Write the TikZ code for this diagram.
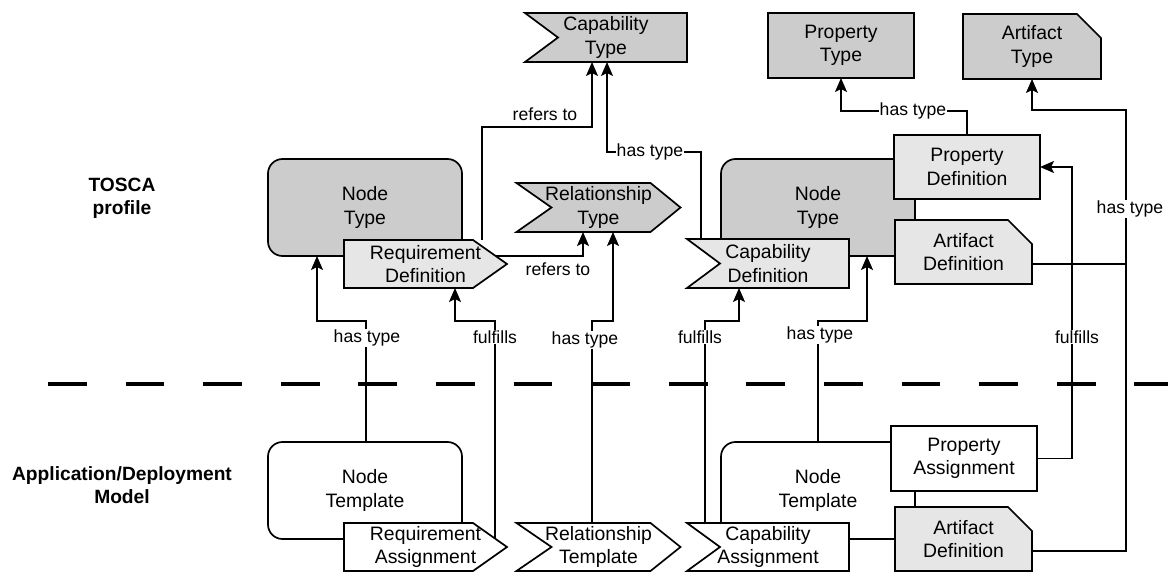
\documentclass[tikz,border=0pt]{standalone}
\usepackage{fontspec}
\setmainfont{Liberation Sans}
\usetikzlibrary{arrows.meta,backgrounds,calc}
\definecolor{dgray}{RGB}{204,204,204}
\definecolor{lgray}{RGB}{230,230,230}

% outlines are drawn on the background layer, in order, behind the node texts
\newcommand\flagshape[3]{\begin{scope}[on background layer]
  \draw[#1] (#2.north west) -- (#2.north east) -- (#2.south east) -- (#2.south west) -- ([xshift=#3]#2.west) -- cycle;
\end{scope}}
\newcommand\pentshape[3]{\begin{scope}[on background layer]
  \draw[#1] (#2.north west) -- ([xshift=-#3]#2.north east) -- (#2.east) -- ([xshift=-#3]#2.south east) -- (#2.south west) -- cycle;
\end{scope}}
\newcommand\chevshape[4]{\begin{scope}[on background layer]
  \draw[#1] (#2.north west) -- ([xshift=-#4]#2.north east) -- (#2.east) -- ([xshift=-#4]#2.south east) -- (#2.south west) -- ([xshift=#3]#2.west) -- cycle;
\end{scope}}
\newcommand\noteshape[3]{\begin{scope}[on background layer]
  \draw[#1] (#2.north west) -- ([xshift=-#3]#2.north east) -- ([yshift=-#3]#2.north east) -- (#2.south east) -- (#2.south west) -- cycle;
\end{scope}}
\newcommand\rectshape[2]{\begin{scope}[on background layer]
  \draw[#1] (#2.north west) rectangle (#2.south east);
\end{scope}}
\newcommand\roundshape[2]{\begin{scope}[on background layer]
  \draw[#1, rounded corners=14.5pt] (#2.north west) rectangle (#2.south east);
\end{scope}}

\begin{document}
\begin{tikzpicture}[x=1pt, y=-1pt,
  box/.style={inner sep=0pt, outer sep=0pt, align=center, font=\fontsize{19.4}{23.3}\selectfont},
  shp/.style={draw=black, line width=1.7pt, line join=miter},
  dk/.style={shp, fill=dgray},
  lt/.style={shp, fill=lgray},
  wt/.style={shp, fill=white},
  conn/.style={line width=1.7pt, draw=black},
  arr/.style={conn, -{Stealth[length=14pt,width=12pt,inset=3pt]}},
  lbl/.style={font=\fontsize{17.6}{21}\selectfont, inner sep=1pt},
  wlbl/.style={lbl, fill=white},
  heading/.style={font=\bfseries\fontsize{19.2}{23}\selectfont, align=center},
  divider/.style={line width=3.6pt, dash pattern=on 38.8pt off 38.8pt}]
\useasboundingbox (0,0) rectangle (1168,572);

% layer divider
\draw[divider] (48,384) -- (1168,384);

% headings
\node[heading] (hprof) at (122,198) {TOSCA\\profile};
\node[heading] (hmodel) at (122,485) {Application/Deployment\\Model};

% ---- TOSCA profile ----
\node[box, minimum width=162, minimum height=49] (capT) at (606,37.5) {Capability\\Type};
\flagshape{dk}{capT}{33}
\node[box, minimum width=146, minimum height=65] (propT) at (841,45.5) {Property\\Type};
\rectshape{dk}{propT}
\node[box, minimum width=138, minimum height=65] (artT) at (1032,46.5) {Artifact\\Type};
\noteshape{dk}{artT}{24}

\node[box, minimum width=194, minimum height=97] (nodeT1) at (365,207.5) {Node\\Type};
\roundshape{dk}{nodeT1}
\node[box, minimum width=163, minimum height=48] (reqD) at (425.5,264) {Requirement\\Definition};
\pentshape{lt}{reqD}{34}
\node[box, minimum width=164, minimum height=49] (relT) at (598.5,207.5) {Relationship\\Type};
\chevshape{dk}{relT}{35}{30}

\node[box, minimum width=194, minimum height=97] (nodeT2) at (818,207.5) {Node\\Type};
\roundshape{dk}{nodeT2}
\node[box, minimum width=146, minimum height=64] (propD) at (967,167) {Property\\Definition};
\rectshape{lt}{propD}
\node[box, minimum width=137, minimum height=64] (artD) at (963.5,252) {Artifact\\Definition};
\noteshape{lt}{artD}{24}
\node[box, minimum width=162, minimum height=49] (capD) at (768,263.5) {Capability\\Definition};
\flagshape{lt}{capD}{33}

% ---- Application/Deployment model ----
\node[box, minimum width=194, minimum height=97] (nodeTp1) at (365,490.5) {Node\\Template};
\roundshape{wt}{nodeTp1}
\node[box, minimum width=163, minimum height=48] (reqA) at (425.5,547) {Requirement\\Assignment};
\pentshape{wt}{reqA}{34}
\node[box, minimum width=164, minimum height=48] (relTp) at (598.5,547) {Relationship\\Template};
\chevshape{wt}{relTp}{35}{30}

\node[box, minimum width=194, minimum height=97] (nodeTp2) at (818,490.5) {Node\\Template};
\roundshape{wt}{nodeTp2}
\node[box, minimum width=162, minimum height=48] (capA) at (768,547) {Capability\\Assignment};
\flagshape{wt}{capA}{33}
\node[box, minimum width=146, minimum height=65] (propA) at (964,458.5) {Property\\Assignment};
\rectshape{wt}{propA}
\node[box, minimum width=137, minimum height=64] (artA) at (963.5,539) {Artifact\\Definition};
\noteshape{lt}{artA}{24}

% ---- connectors inside the profile ----
\draw[arr] (482,0 |- reqD.north) |- (592,127) -- (592,0 |- capT.south);
\draw[arr] (701,0 |- capD.north) |- (607,152) -- (607,0 |- capT.south);
\draw[arr] ($(reqD.east)+(-11,-8)$) -| (583,0 |- relT.south);
\draw[arr] (967,0 |- propD.north) |- (841,111) -- (841,0 |- propT.south);
\draw[arr] ($(artA.south east)+(0,-20)$) -| (1126,110) -| (artT.south);
\draw[conn] ($(artD.south east)+(0,-20)$) -- (1126,264);

% ---- connectors between model and profile ----
\draw[arr] (propA.east) -| (1072,321) |- (propD.east);
\draw[arr] (366,0 |- nodeTp1.north) |- (317,321) -- (317,0 |- nodeT1.south);
\draw[arr] ($(reqA.east)+(-12,-8.5)$) |- (455,321) -- (455,0 |- reqD.south);
\draw[arr] (592,0 |- relTp.north) |- (613,321) -- (613,0 |- relT.south);
\draw[arr] (705,0 |- capA.north) |- (739,321) -- (739,0 |- capD.south);
\draw[arr] (818,0 |- nodeTp2.north) |- (867,321) -- (867,0 |- nodeT2.south);

% ---- connector labels ----
\node[lbl] (l1) at (545,114) {refers to};
\node[wlbl] (l2) at (650,152) {has type};
\node[lbl] (l3) at (558,269) {refers to};
\node[wlbl] (l4) at (913,111) {has type};
\node[wlbl] (l5) at (1130,209) {has type};
\node[wlbl] (l6) at (1077,337) {fulfills};
\node[wlbl] (l7) at (367,338) {has type};
\node[wlbl] (l8) at (495,337) {fulfills};
\node[wlbl] (l9) at (585,340) {has type};
\node[wlbl] (l10) at (700,337) {fulfills};
\node[wlbl] (l11) at (820,335) {has type};
\end{tikzpicture}
\end{document}
